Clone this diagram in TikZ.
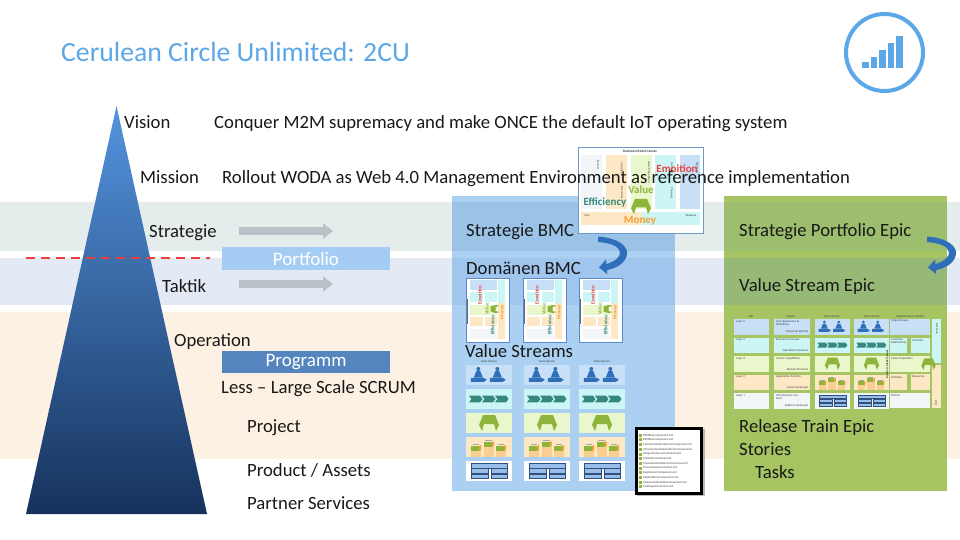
\documentclass[tikz,border=0pt]{standalone}
\usepackage{fontspec}
\setmainfont{Carlito}
\usetikzlibrary{arrows.meta}
\definecolor{titleblue}{RGB}{91,167,232}
\definecolor{bandstrat}{RGB}{228,236,236}
\definecolor{bandtakt}{RGB}{227,234,245}
\definecolor{bandoper}{RGB}{253,241,227}
\definecolor{colblue}{RGB}{171,208,242}
\definecolor{colbluea}{RGB}{155,195,231}
\definecolor{colblueb}{RGB}{160,198,238}
\definecolor{colgreen}{RGB}{166,196,98}
\definecolor{colgreena}{RGB}{157,190,110}
\definecolor{colgreenb}{RGB}{151,185,119}
\definecolor{cellblue}{RGB}{200,223,248}
\definecolor{cellcyan}{RGB}{204,245,245}
\definecolor{cellgreen}{RGB}{234,246,203}
\definecolor{cellorange}{RGB}{252,232,197}
\definecolor{cellpale}{RGB}{242,246,248}
\definecolor{iconblue}{RGB}{47,111,185}
\definecolor{iconteal}{RGB}{53,135,127}
\definecolor{icongreen}{RGB}{141,181,60}
\definecolor{iconorange}{RGB}{240,160,48}
\definecolor{alertred}{RGB}{232,65,60}
\definecolor{arrowgrey}{RGB}{186,194,200}
\definecolor{barlight}{RGB}{165,205,243}
\definecolor{barmid}{RGB}{85,133,191}
\definecolor{pyrtop}{RGB}{84,148,222}
\definecolor{pyrmid}{RGB}{44,104,176}
\definecolor{pyrbot}{RGB}{22,50,92}
\definecolor{stackfill}{RGB}{150,190,232}
\definecolor{stackline}{RGB}{50,80,125}
\tikzset{
  label-main/.style={anchor=base west, inner sep=0pt, font=\fontsize{18.7}{22}\selectfont, text=black!90},
  label-bar/.style={inner sep=0pt, text=white, font=\fontsize{19}{22}\selectfont},
  label-tiny/.style={inner sep=0pt, font=\fontsize{3}{3.6}\selectfont, text=black!75},
  label-word/.style={inner sep=0pt, font=\bfseries\fontsize{11}{13}\selectfont},
  label-mini/.style={inner sep=0pt, rotate=90, font=\bfseries\fontsize{5}{6}\selectfont},
  grey-arrow/.style={line width=8pt, draw=arrowgrey, -{Triangle[length=10pt,width=15pt]}},
  stack-bar/.style={fill=stackfill, draw=stackline, line width=.35pt}
}
\newcommand{\iconpeople}{
  \foreach \px in {12.3,31.3}{
    \fill[iconblue] (\px,4) circle (2);
    \fill[iconblue] (\px-2,6.2) -- (\px+2,6.2) -- (\px+4.5,12.5) -- (\px-4.5,12.5) -- cycle;
    \fill[iconblue] (\px-7.5,12.8) -- (\px+5.5,12.8) -- (\px+8.5,14.8) -- (\px+5.5,16.8) -- (\px-7.5,16.8) -- cycle;
  }
}
\newcommand{\iconchevrons}{
  \foreach \cx in {3,16,29}{
    \fill[iconteal] (\cx,6.7) -- (\cx+11,6.7) -- (\cx+13.5,10) -- (\cx+11,13.3) -- (\cx,13.3) -- (\cx+2.5,10) -- cycle;
  }
}
\newcommand{\iconarch}{
  \fill[icongreen] (17,2) -- (29,2) -- (33,12) -- (30,18) -- (28,11) -- (18,11) -- (16,18) -- (13,12) -- cycle;
}
\newcommand{\iconboxes}{
  \foreach \bx/\by in {5/9,17.5/5,30/9}{
    \fill[iconorange!35!cellorange] (\bx,\by) rectangle (\bx+10,20);
    \fill[black!35] (\bx+1.5,\by-2) rectangle (\bx+8,\by-1);
    \fill[icongreen] (\bx,\by) rectangle (\bx+8,\by+5);
    \fill[iconorange] (\bx+8,\by+5) -- (\bx+8,\by) -- (\bx+10,\by-1) -- (\bx+10,\by+4) -- cycle;
  }
}
\newcommand{\iconstack}{
  \draw[stack-bar] (5,2.3) rectangle (41,6.7);
  \foreach \sy in {7.6,13.3}{
    \draw[stack-bar] (5,\sy) rectangle (22,\sy+4.2);
    \draw[stack-bar] (25,\sy) rectangle (41,\sy+4.2);
  }
}
\newcommand{\bmcsmall}[2]{
  \begin{scope}[shift={(#1,#2)}]
    \draw[fill=white, draw=iconblue!80!white, line width=.7pt] (0,0) rectangle (43.5,64);
    \fill[cellblue] (4,2) rectangle (31,12);
    \fill[cellcyan] (32,2) rectangle (39,25);
    \fill[cellorange] (32,25) rectangle (39,61);
    \fill[cellcyan] (4,14) rectangle (17,24);
    \fill[cellcyan] (19,14) rectangle (31,24);
    \fill[cellgreen] (4,27) rectangle (31,37);
    \fill[cellorange] (4,39) rectangle (17,48);
    \fill[cellorange] (19,39) rectangle (31,48);
    \fill[cellpale] (4,51) rectangle (31,61);
    \draw[black!60, line width=.4pt] (1,21) -- (1,46);
    \begin{scope}[shift={(29,31)},rotate=90,xscale=.42,yscale=.55,shift={(-23,-10)}]
      \iconarch
    \end{scope}
    \node[label-mini, text=alertred] at (14,17) {Emoition};
    \node[label-mini, text=icongreen] at (21,31) {Value};
    \node[label-mini, text=iconteal] at (27,47) {Efficiency};
    \node[label-mini, text=iconorange] at (36.5,34) {Money};
  \end{scope}
}
\newcommand{\streamcol}[1]{
  \node[label-tiny] at (#1+23,361) {Value Stream};
  \foreach \ry/\rc/\ricon in {365/cellblue/\iconpeople,389/cellcyan/\iconchevrons,413/cellgreen/\iconarch,437/cellorange/\iconboxes,461/white/\iconstack}{
    \begin{scope}[shift={(#1,\ry)}]
      \fill[\rc] (0,0) rectangle (46,20);
      \ricon
    \end{scope}
  }
}
\newcommand{\bentarrow}[1]{
  \begin{scope}[shift={(#1,0)}]
    \fill[iconblue] (598,236.5) .. controls (618,238) and (628,246) .. (627,254)
      .. controls (626,262) and (618,268) .. (607,270) -- (607,274) -- (599,267.5) -- (606,259.5) -- (606.5,264)
      .. controls (614,262) and (621,257) .. (620,252) .. controls (619,246) and (610,243) .. (598,242) -- cycle;
  \end{scope}
}
\begin{document}
\begin{tikzpicture}[x=1pt,y=-1pt]
  \useasboundingbox (0,0) rectangle (960,540);
  \fill[white] (0,0) rectangle (960,540);

  % bands
  \fill[bandstrat] (0,202) rectangle (960,251);
  \fill[bandtakt] (0,258) rectangle (960,305);
  \fill[bandoper] (0,312) rectangle (960,459);

  % title and logo
  \node[anchor=base west, inner sep=0pt, text=titleblue, font=\fontsize{27.7}{32}\selectfont] (title) at (61,62) {Cerulean Circle Unlimited: 2CU};
  \draw[titleblue, line width=4pt] (884.5,52.5) circle (38.5);
  \foreach \bx/\btop in {862/62,870.5/57,879/50,887.5/43,896/36}{
    \fill[titleblue] (\bx,68) rectangle (\bx+6.5,\btop);
  }

  % pyramid
  \shade[top color=pyrtop, middle color=pyrmid, bottom color=pyrbot]
    (116.5,106) -- (207,514) -- (26,514) -- cycle;
  \draw[alertred, line width=1.5pt, dash pattern=on 9pt off 6pt] (26,258) -- (210,258);

  % left labels
  \node[label-main] (vision) at (124,129) {Vision};
  \node[label-main] (mission) at (140,183) {Mission};
  \node[label-main] (strategie) at (149,237) {Strategie};
  \node[label-main] (taktik) at (162,292) {Taktik};
  \node[label-main] (operation) at (174,346) {Operation};
  \node[label-main] (less) at (221,393) {Less -- Large Scale SCRUM};
  \node[label-main] (project) at (247,432) {Project};
  \node[label-main] (product) at (247,476) {Product / Assets};
  \node[label-main] (partner) at (247,509) {Partner Services};
  \node[label-main] (conquer) at (214,129) {Conquer M2M supremacy and make ONCE the default IoT operating system};

  % bars and arrows
  \node[label-bar, fill=barlight, minimum width=168pt, minimum height=23pt] (portfolio) at (306,258.5) {Portfolio};
  \node[label-bar, fill=barmid, minimum width=168pt, minimum height=22pt] (programm) at (306,362) {Programm};
  \coordinate (arrowa-start) at (239,231);
  \coordinate (arrowa-end) at (333,231);
  \coordinate (arrowb-start) at (239,284);
  \coordinate (arrowb-end) at (333,284);
  \draw[grey-arrow] (arrowa-start) -- (arrowa-end);
  \draw[grey-arrow] (arrowb-start) -- (arrowb-end);

  % blue column
  \fill[colblue] (452,196) rectangle (675,491);
  \fill[colbluea] (452,202) rectangle (675,251);
  \fill[colblueb] (452,258) rectangle (675,305);

  % green column
  \fill[colgreen] (724,196) rectangle (947,491);
  \fill[colgreena] (724,202) rectangle (947,251);
  \fill[colgreenb] (724,258) rectangle (947,305);

  % business model canvas
  \draw[fill=white, draw=iconblue!70!white, line width=.8pt] (578,147) rectangle (703,233);
  \fill[cellpale] (581,155) rectangle (602,209);
  \fill[cellorange] (606,155) rectangle (627,209);
  \fill[cellgreen] (631,155) rectangle (652,209);
  \fill[cellcyan] (655,155) rectangle (676,209);
  \fill[cellblue] (680,155) rectangle (700,209);
  \fill[cellorange] (581,212) rectangle (642,225);
  \fill[cellcyan] (642,212) rectangle (700,225);
  \node[label-tiny, font=\bfseries\fontsize{3.5}{4}\selectfont] at (640,151) {Business Model Canvas};
  \foreach \tx/\ty/\tname in {598/165/Partner,622/168/Activities,622/193/Resources,649/172/Value Proposition,672/168/Customer,672/193/Channels,697/168/Segments}{
    \node[label-tiny, rotate=-90] at (\tx,\ty) {\tname};
  }
  \node[label-tiny] at (587,216) {Cost};
  \node[label-tiny] at (691,216) {Revenue};
  \begin{scope}[shift={(618,197)},yscale=.95]
    \iconarch
  \end{scope}
  \node[label-word, text=alertred] at (677,169) {Emoition};
  \node[label-word, text=icongreen] at (641,190) {Value};
  \node[label-word, text=iconteal] at (605,202) {Efficiency};
  \node[label-word, text=iconorange] at (640,221) {Money};

  \node[label-main] (rollout) at (222,183) {Rollout WODA as Web 4.0 Management Environment as reference implementation};

  % blue column content
  \node[label-main] (bmcstrat) at (466,236) {Strategie BMC};
  \node[label-main] (bmcdom) at (466,274) {Domänen BMC};
  \bentarrow{0}
  \foreach \colx in {466,523,579}{
    \bmcsmall{\colx}{278}
  }
  \node[label-main] (streams) at (465,357) {Value Streams};
  \foreach \colx in {466,524,579}{
    \streamcol{\colx}
  }

  % file list
  \fill[black!45, opacity=.6] (637,429) rectangle (705,496);
  \draw[fill=white, draw=black, line width=3pt] (636.5,428.5) rectangle (701.5,493);
  \foreach \fname [count=\fidx] in {BPMRunComponent.xml,BPMRunComponent.xml,CommandCentralServerComponent.xml,InfrastructureDataCollectorComponents,IntegrationServerContainer.xml,MediatorContainer.xml,MywebmethodsServerContainer.xml,ProcessEngineContainer.xml,RepoServerComponent.xml,SAGPlatformComponent.xml,SoftwareAGInstallerComponent.xml,TaskEngineContainer.xml}{
    \fill[icongreen] (639,{429+\fidx*4.7}) rectangle (642,{432+\fidx*4.7});
    \node[label-tiny, anchor=west] at (643,{430.5+\fidx*4.7}) {\fname};
  }

  % green column content
  \node[label-main] (epicstrat) at (739,236) {Strategie Portfolio Epic};
  \node[label-main] (epicvalue) at (739,291) {Value Stream Epic};
  \bentarrow{329}
  \foreach \hx/\hname in {751/Edit,791/Logistic,832/Value Stream,872/Value Stream,910/Digital Business Model}{
    \node[label-tiny] at (\hx,316.5) {\hname};
  }
  \foreach \ry/\rc/\rn/\ra/\rb in {
      319/cellblue/Layer 5/{User Experience \& Workflows}/Corporate Identity,
      337.5/cellcyan/Layer 4/Business Processes/Operations Structure,
      356/cellgreen/Layer 3/Service Capabilities/Domain Structure,
      374.5/cellorange/Layer 2/Application Systems/system landscape,
      393/cellpale/Layer 1/Infrastructure Systems/platform landscape}{
    \fill[\rc] (734,\ry) rectangle (769,\ry+15.5);
    \fill[\rc] (774,\ry) rectangle (810,\ry+15.5);
    \fill[\rc] (815,\ry) rectangle (850,\ry+15.5);
    \fill[\rc] (854,\ry) rectangle (889,\ry+15.5);
    \node[label-tiny, anchor=west] at (736,\ry+2.5) {\rn};
    \node[label-tiny, anchor=north west, text width=26pt] at (776,\ry+1) {\ra};
    \node[label-tiny, anchor=east] at (808.5,\ry+13) {\rb};
  }
  \foreach \ix in {815,854}{
    \foreach \ry/\ricon in {319/\iconpeople,337.5/\iconchevrons,356/\iconarch,374.5/\iconboxes,393/\iconstack}{
      \begin{scope}[shift={(\ix,\ry)},xscale=.76,yscale=.77]
        \ricon
      \end{scope}
    }
  }
  \fill[cellblue] (890,319) rectangle (930,335);
  \fill[cellcyan] (890,338) rectangle (907,353);
  \fill[cellcyan] (911,338) rectangle (930,353);
  \fill[cellgreen] (890,356) rectangle (930,372);
  \fill[cellorange] (890,374) rectangle (907,390);
  \fill[cellorange] (911,374) rectangle (930,390);
  \fill[cellpale] (890,393) rectangle (930,408);
  \fill[cellcyan] (932,319) rectangle (941,363);
  \fill[cellorange] (932,365) rectangle (941,408);
  \begin{scope}[shift={(912,357)},xscale=.72,yscale=.72]
    \iconarch
  \end{scope}
  \foreach \lx/\ly/\lname in {891/321/Target Groups,891/340/Customer,891/343/Relationship,912/340/Channels,891/359/Value Proposition,891/377/Activities,912/377/Resources,891/396/Partner}{
    \node[label-tiny, anchor=west] at (\lx,\ly) {\lname};
  }
  \node[label-tiny, rotate=-90] at (937,329) {Revenue};
  \node[label-tiny, rotate=90] at (936,403) {Cost};
  \node[label-tiny, rotate=90, text=black] at (887,364) {Business Model Canvas};

  \node[label-main] (epicrelease) at (739,432) {Release Train Epic};
  \node[label-main] (stories) at (739,455) {Stories};
  \node[label-main] (tasks) at (755,478) {Tasks};
\end{tikzpicture}
\end{document}
